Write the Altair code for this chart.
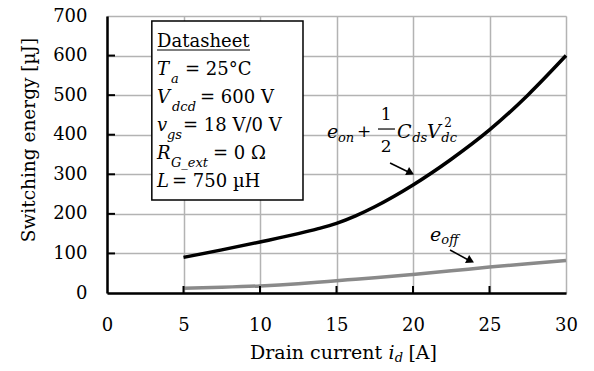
import altair as alt
import pandas as pd

# ---- data ----
current = [5, 7.5, 10, 12.5, 13.75, 15, 16.25, 17.5, 20, 22.5, 25, 27.5, 30]
e_on = [90, 109, 129, 150, 162, 176, 195, 218, 273, 338, 412, 500, 600]
e_off = [12, 14.5, 18, 23.5, 27, 31, 34.7, 38.5, 47, 56, 65.5, 74, 82]

x_ticks = [0, 5, 10, 15, 20, 25, 30]
y_ticks = [0, 100, 200, 300, 400, 500, 600, 700]

FONT = "DejaVu Serif"
W, H = 459, 277

curves = pd.DataFrame({"i": current * 2,
                       "e": e_on + e_off,
                       "s": ["on"] * len(current) + ["off"] * len(current)})

xs = alt.Scale(domain=[0, 30], nice=False)
ys = alt.Scale(domain=[0, 700], nice=False)

AX = alt.Axis(values=x_ticks, grid=True, gridColor="#b3b3b3", gridWidth=1.5,
              ticks=False, domainColor="black", domainWidth=2.5,
              labelFont=FONT, labelFontSize=18, labelColor="black",
              labelPadding=23, title=None, labelFlush=False, labelOverlap=False)
AY = alt.Axis(values=y_ticks, grid=True, gridColor="#b3b3b3", gridWidth=1.5,
              ticks=False, domainColor="black", domainWidth=2.5,
              labelFont=FONT, labelFontSize=18, labelColor="black",
              labelPadding=20, title=None, labelOverlap=False, labelFlush=False)


def X(f):
    return alt.X(f, scale=xs, axis=AX)


def Y(f):
    return alt.Y(f, scale=ys, axis=AY)


lines = alt.Chart(curves).mark_line(strokeWidth=3.5, interpolate="monotone").encode(
    x=X("i:Q"),
    y=Y("e:Q"),
    color=alt.Color("s:N", scale=alt.Scale(domain=["on", "off"], range=["black", "#8a8a8a"]),
                    legend=None),
    detail="s:N",
)

# inward ticks
yt = alt.Chart(pd.DataFrame({"v": y_ticks[1:-1]})).mark_rule(color="black", strokeWidth=2).encode(
    y=Y("v:Q"), x=alt.value(0), x2=alt.value(8))
xt = alt.Chart(pd.DataFrame({"v": x_ticks[1:-1]})).mark_rule(color="black", strokeWidth=2).encode(
    x=X("v:Q"), y=alt.value(H), y2=alt.value(H - 7))

# info box (data coordinates)
box = alt.Chart(pd.DataFrame({"x": [2.93], "x2": [12.81], "y": [687.4], "y2": [235.0]})).mark_rect(
    fill="white", stroke="black", strokeWidth=1.5).encode(
    x=X("x:Q"), x2="x2:Q", y=Y("y:Q"), y2="y2:Q")


def texts(rows, size, italic=False, align="left", angle=0):
    df = pd.DataFrame(rows, columns=["t", "x", "y"])
    kw = dict(font=FONT, fontSize=size, align=align, baseline="middle", color="black")
    if italic:
        kw["fontStyle"] = "italic"
    if angle:
        kw["angle"] = angle
    return alt.Chart(df).mark_text(**kw).encode(x=X("x:Q"), y=Y("y:Q"), text="t:N")


box_normal = [("Datasheet", 3.27, 634.3), ("= 25°C", 5.10, 563.5), ("= 600 V", 6.08, 492.8),
              ("= 18 V/0 V", 4.97, 422.0), ("= 0 Ω", 6.93, 351.3), ("= 750 µH", 4.25, 280.5)]
box_italic = [("T", 3.27, 563.5), ("V", 3.27, 492.8), ("v", 3.27, 422.0), ("R", 3.27, 351.3),
              ("L", 3.27, 280.5)]
box_sub = [("a", 4.18, 540.8), ("dcd", 4.25, 470.1), ("gs", 3.92, 399.3), ("G_ext", 4.18, 328.6)]

underline = alt.Chart(pd.DataFrame({"x": [3.27], "x2": [9.35], "y": [614.1]})).mark_rule(
    color="black", strokeWidth=1.2).encode(x=X("x:Q"), x2="x2:Q", y=Y("y:Q"))

# e_on annotation
on_italic = [("e", 14.38, 406.9), ("C", 18.95, 406.9), ("V", 20.92, 406.9)]
on_sub = [("on", 15.1, 391.7), ("ds", 19.95, 391.7), ("dc", 21.85, 391.7)]
on_center = [("+", 16.8, 406.9), ("1", 18.24, 449.8), ("2", 18.24, 369.0)]
on_sup = [("2", 22.29, 429.6)]
frac = alt.Chart(pd.DataFrame({"x": [17.71], "x2": [18.82], "y": [414.4]})).mark_rule(
    color="black", strokeWidth=1.2).encode(x=X("x:Q"), x2="x2:Q", y=Y("y:Q"))

off_italic = [("e", 21.11, 146.6)]
off_sub = [("off", 21.85, 134.0)]

arrows = pd.DataFrame({"x": [18.5, 22.42], "y": [328.5, 108.7], "x2": [19.9, 23.8],
                       "y2": [302.0, 79.6]})
shafts = alt.Chart(arrows).mark_rule(color="black", strokeWidth=1.5).encode(
    x=X("x:Q"), y=Y("y:Q"), x2="x2:Q", y2="y2:Q")
heads_df = pd.DataFrame({"x": [19.84, 23.76], "y": [303.8, 81.6], "a": [26, 27.5]})
heads = alt.Chart(heads_df).mark_point(shape="triangle-right", filled=True, color="black",
                                       size=80, opacity=1).encode(
    x=X("x:Q"), y=Y("y:Q"), angle=alt.Angle("a:Q", scale=None))

# axis titles as text
xt_normal = [("Drain current", 9.35, -151.6), ("[A]", 19.7, -151.6)]
xt_italic = [("i", 18.4, -151.6)]
xt_sub = [("d", 18.8, -164.3)]
ytitle = [("Switching energy [µJ]", -5.1, 386.6)]

chart = alt.layer(
    lines, yt, xt, box, underline,
    texts(box_normal, 18), texts(box_italic, 18, italic=True), texts(box_sub, 13, italic=True),
    texts(on_italic, 19, italic=True), texts(on_sub, 13, italic=True),
    texts(on_center, 17, align="center"), texts(on_sup, 12, align="center"), frac,
    texts(off_italic, 19, italic=True), texts(off_sub, 13, italic=True),
    shafts, heads,
    texts(xt_normal, 19), texts(xt_italic, 19, italic=True), texts(xt_sub, 13, italic=True),
    texts(ytitle, 18.5, align="center", angle=270),
).properties(
    width=W, height=H,
    autosize=alt.AutoSizeParams(type="none"),
    padding={"left": 99, "top": 8, "right": 20, "bottom": 70},
).configure_view(stroke="black", strokeWidth=2).configure(background="white")

chart.save("out.html", embed_options={"renderer": "svg", "actions": False})
